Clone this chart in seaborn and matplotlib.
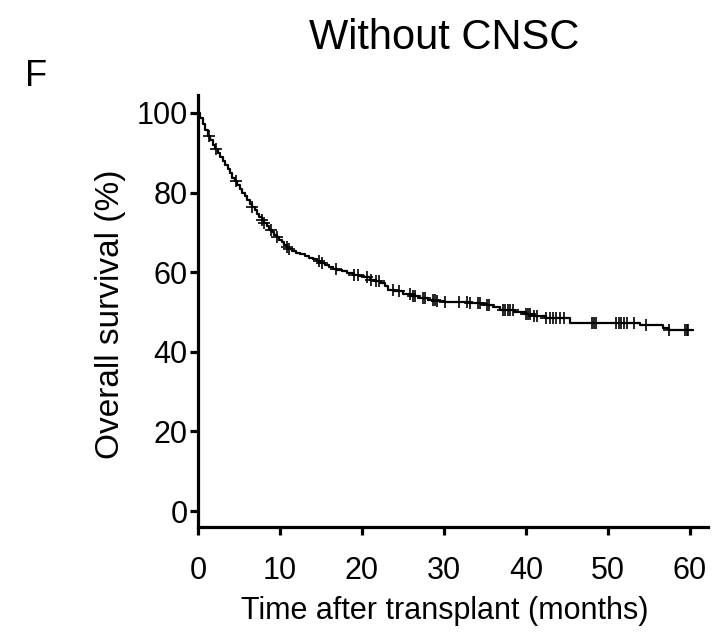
import numpy as np
import pandas as pd
import matplotlib
matplotlib.use("Agg")
import matplotlib.pyplot as plt
import seaborn as sns

# Kaplan-Meier step curve (months, % survival)
times = [0, 0.3, 0.6, 0.9, 1.2, 1.5, 1.8, 2.1, 2.4, 2.7, 3.0, 3.3, 3.6, 3.9, 4.2, 4.5,
         4.8, 5.1, 5.4, 5.7, 6.0, 6.3, 6.6, 6.9, 7.2, 7.5, 7.8, 8.1, 8.4, 8.7, 9.0, 9.3,
         9.6, 9.9, 10.2, 10.5, 10.8, 11.1, 11.5, 12.0, 12.5, 13.0, 13.5, 14.0, 14.5, 15.0,
         15.5, 16.0, 16.5, 17.0, 17.6, 18.2, 19.0, 19.6, 20.2, 21.0, 21.6, 22.2, 22.8,
         23.2, 24.0, 25.0, 26.0, 27.0, 28.0, 29.0, 30.0, 31.5, 33.0, 34.5, 35.2, 36.0,
         36.8, 38.5, 40.0, 41.0, 42.5, 45.4, 53.9, 56.7, 57.5, 60.4]
survival = [100, 98.6, 97.2, 95.6, 94.2, 93.1, 92.0, 91.0, 90.0, 88.9, 87.9, 86.8, 85.8,
            84.8, 83.7, 82.8, 81.9, 81.0, 80.0, 79.1, 78.2, 77.2, 76.3, 75.5, 74.7, 73.9,
            73.1, 72.3, 71.5, 70.7, 70.0, 69.4, 68.9, 68.2, 67.5, 66.8, 66.2, 65.7, 65.3,
            64.9, 64.5, 64.0, 63.6, 63.2, 62.8, 62.3, 61.8, 61.3, 60.9, 60.5, 60.2, 59.9,
            59.4, 59.1, 58.7, 58.1, 57.7, 57.2, 56.5, 55.6, 55.2, 54.6, 54.0, 53.5, 53.1,
            52.8, 52.6, 52.4, 52.2, 52.0, 51.7, 51.3, 50.5, 50.0, 49.6, 49.0, 48.5, 47.3,
            46.7, 46.0, 45.6, 45.6]

# Censoring times (months)
censor_times = [1.3, 2.2, 4.6, 6.6, 7.8, 8.1, 8.9, 9.6, 10.9, 11.1, 14.7, 15.1, 16.8, 19.0,
                19.5, 20.6, 21.1, 21.7, 22.1, 23.8, 24.5, 25.9, 26.2, 26.5, 27.4, 27.7, 28.6,
                28.9, 29.2, 30.1, 31.8, 32.8, 33.2, 34.1, 34.4, 35.3, 35.5, 37.2, 37.5, 37.8,
                38.1, 38.4, 40.0, 40.3, 40.5, 41.0, 41.3, 42.5, 42.9, 43.3, 43.7, 44.2, 44.6,
                48.0, 48.3, 48.6, 51.0, 51.3, 51.6, 51.9, 52.3, 53.2, 54.6, 57.5, 59.4, 59.6, 59.8]

x_ticks = [0, 10, 20, 30, 40, 50, 60]
y_ticks = [0, 20, 40, 60, 80, 100]

curve = pd.DataFrame({"time": times, "surv": survival})
t_arr = np.array(times)
s_arr = np.array(survival)
idx = np.searchsorted(t_arr, np.array(censor_times), side="right") - 1
cens = pd.DataFrame({"time": censor_times, "surv": s_arr[idx]})

sns.set_style("ticks", rc={"axes.edgecolor": "black", "text.color": "black",
                           "axes.labelcolor": "black", "xtick.color": "black",
                           "ytick.color": "black"})
plt.rcParams["font.family"] = ["Liberation Sans", "DejaVu Sans"]

fig = plt.figure(figsize=(7.17, 6.34), dpi=100)
ax = fig.add_axes([198/717, 1-527/634, (708-198)/717, (527-95)/634])

sns.lineplot(data=curve, x="time", y="surv", ax=ax, color="black", linewidth=1.6,
             drawstyle="steps-post", estimator=None, sort=False)
sns.scatterplot(data=cens, x="time", y="surv", ax=ax, marker="+", color="black",
                s=85, linewidth=1.2, zorder=3)

ax.set_xlim(0, 62.2)
ax.set_ylim(-4, 104.5)
ax.set_xticks(x_ticks)
ax.set_yticks(y_ticks)
for side in ["top", "right"]:
    ax.spines[side].set_visible(False)
for side in ["left", "bottom"]:
    ax.spines[side].set_linewidth(2.3)
ax.tick_params(axis="both", length=6, width=2.3, labelsize=22, colors="black")
ax.tick_params(axis="x", pad=15)
ax.tick_params(axis="y", pad=1.5)
ax.set_xlabel("Time after transplant (months)", fontsize=22)
ax.set_ylabel("Overall survival (%)", fontsize=24)
ax.xaxis.set_label_coords((445-198)/510, (527-596)/432)
ax.yaxis.set_label_coords((126-198)/510, (527-314)/432)

fig.text(444/717, 1-38/634, "Without CNSC", ha="center", va="center", fontsize=30)
fig.text(36/717, 1-77/634, "F", ha="center", va="center", fontsize=26)

fig.savefig("out.png", dpi=100)
